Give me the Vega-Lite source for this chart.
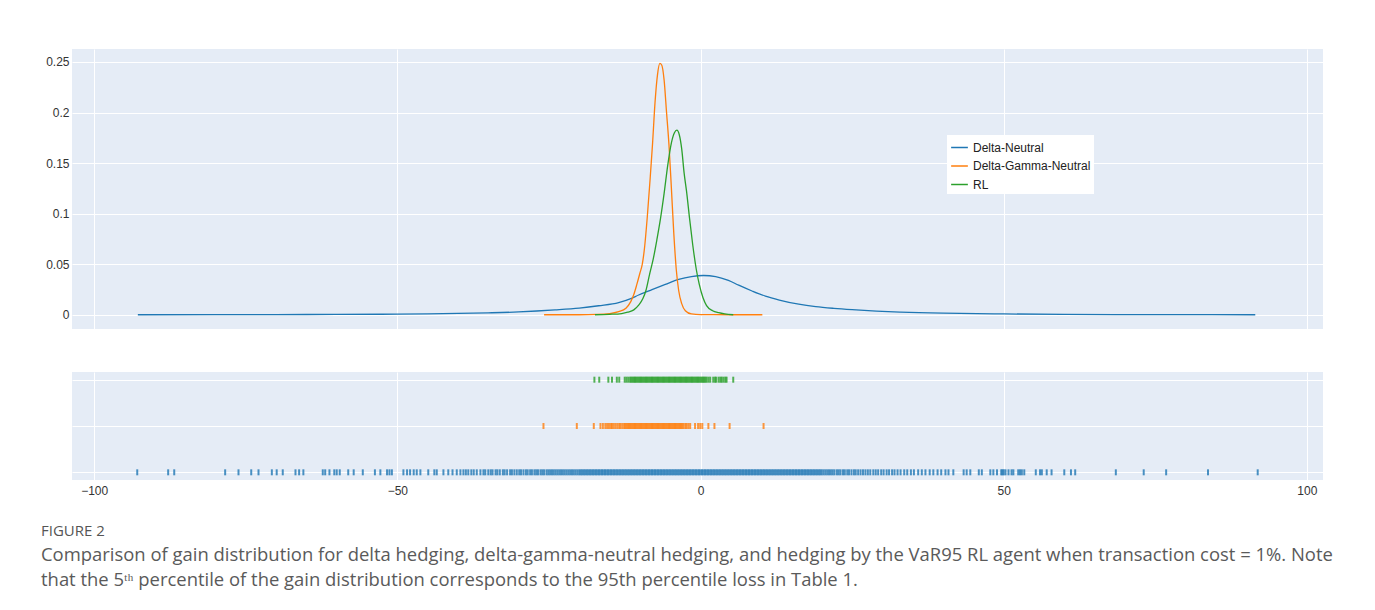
{
"$schema": "https://vega.github.io/schema/vega-lite/v6.json",
"padding": {"left": 41, "top": 49, "right": 16, "bottom": 10},
"background": "white",
"config": {
  "view": {"fill": "#E5ECF6", "stroke": null},
  "axis": {"labelFont": "Liberation Sans", "labelFontSize": 12, "labelColor": "#333333", "gridColor": "#FFFFFF", "gridWidth": 1, "domain": false, "ticks": false, "title": null},
  "font": "Liberation Sans"
},
"title": {
  "text": "FIGURE 2",
  "subtitle": ["Comparison of gain distribution for delta hedging, delta-gamma-neutral hedging, and hedging by the VaR95 RL agent when transaction cost = 1%. Note", "that the 5ᵗʰ percentile of the gain distribution corresponds to the 95th percentile loss in Table 1."],
  "orient": "bottom", "anchor": "start", "frame": "bounds", "offset": 28, "dx": -1,
  "font": "Open Sans", "fontSize": 15, "fontWeight": "normal", "color": "#555555",
  "subtitleFont": "Open Sans", "subtitleFontSize": 18.45, "subtitleColor": "#5a5a5a", "subtitlePadding": 7, "subtitleLineHeight": 24.5
},
"datasets": {
  "density": [
    {"series":"Delta-Neutral","gain":-92.8,"density":0},
    {"series":"Delta-Neutral","gain":-80,"density":0.0001},
    {"series":"Delta-Neutral","gain":-70,"density":0.0002},
    {"series":"Delta-Neutral","gain":-60,"density":0.0003},
    {"series":"Delta-Neutral","gain":-50,"density":0.0006},
    {"series":"Delta-Neutral","gain":-45,"density":0.0009},
    {"series":"Delta-Neutral","gain":-40,"density":0.0013},
    {"series":"Delta-Neutral","gain":-35,"density":0.0019},
    {"series":"Delta-Neutral","gain":-30,"density":0.0028},
    {"series":"Delta-Neutral","gain":-27,"density":0.0037},
    {"series":"Delta-Neutral","gain":-24,"density":0.0048},
    {"series":"Delta-Neutral","gain":-20,"density":0.0066},
    {"series":"Delta-Neutral","gain":-16.8,"density":0.0089},
    {"series":"Delta-Neutral","gain":-13.5,"density":0.0120},
    {"series":"Delta-Neutral","gain":-11.5,"density":0.0160},
    {"series":"Delta-Neutral","gain":-10.2,"density":0.0195},
    {"series":"Delta-Neutral","gain":-8,"density":0.0248},
    {"series":"Delta-Neutral","gain":-5.8,"density":0.0300},
    {"series":"Delta-Neutral","gain":-3.6,"density":0.0350},
    {"series":"Delta-Neutral","gain":-1.5,"density":0.0378},
    {"series":"Delta-Neutral","gain":0.5,"density":0.0388},
    {"series":"Delta-Neutral","gain":2.5,"density":0.0378},
    {"series":"Delta-Neutral","gain":4.6,"density":0.0340},
    {"series":"Delta-Neutral","gain":6.3,"density":0.0292},
    {"series":"Delta-Neutral","gain":8.5,"density":0.0235},
    {"series":"Delta-Neutral","gain":10.7,"density":0.0184},
    {"series":"Delta-Neutral","gain":13,"density":0.0145},
    {"series":"Delta-Neutral","gain":16.2,"density":0.0104},
    {"series":"Delta-Neutral","gain":19,"density":0.0080},
    {"series":"Delta-Neutral","gain":22,"density":0.0063},
    {"series":"Delta-Neutral","gain":25,"density":0.0050},
    {"series":"Delta-Neutral","gain":29,"density":0.0036},
    {"series":"Delta-Neutral","gain":33,"density":0.0026},
    {"series":"Delta-Neutral","gain":40,"density":0.0015},
    {"series":"Delta-Neutral","gain":50,"density":0.0008},
    {"series":"Delta-Neutral","gain":60,"density":0.0004},
    {"series":"Delta-Neutral","gain":75,"density":0.0001},
    {"series":"Delta-Neutral","gain":91.5,"density":0},
    {"series":"Delta-Gamma-Neutral","gain":-25.8,"density":0},
    {"series":"Delta-Gamma-Neutral","gain":-20,"density":0},
    {"series":"Delta-Gamma-Neutral","gain":-17,"density":0.0003},
    {"series":"Delta-Gamma-Neutral","gain":-15,"density":0.0012},
    {"series":"Delta-Gamma-Neutral","gain":-13.5,"density":0.0030},
    {"series":"Delta-Gamma-Neutral","gain":-12.3,"density":0.0065},
    {"series":"Delta-Gamma-Neutral","gain":-11.5,"density":0.0130},
    {"series":"Delta-Gamma-Neutral","gain":-11.0,"density":0.020},
    {"series":"Delta-Gamma-Neutral","gain":-10.5,"density":0.030},
    {"series":"Delta-Gamma-Neutral","gain":-10.0,"density":0.041},
    {"series":"Delta-Gamma-Neutral","gain":-9.6,"density":0.050},
    {"series":"Delta-Gamma-Neutral","gain":-9.2,"density":0.068},
    {"series":"Delta-Gamma-Neutral","gain":-8.8,"density":0.095},
    {"series":"Delta-Gamma-Neutral","gain":-8.3,"density":0.135},
    {"series":"Delta-Gamma-Neutral","gain":-7.9,"density":0.170},
    {"series":"Delta-Gamma-Neutral","gain":-7.5,"density":0.210},
    {"series":"Delta-Gamma-Neutral","gain":-7.1,"density":0.237},
    {"series":"Delta-Gamma-Neutral","gain":-6.7,"density":0.2485},
    {"series":"Delta-Gamma-Neutral","gain":-6.4,"density":0.247},
    {"series":"Delta-Gamma-Neutral","gain":-6.0,"density":0.232},
    {"series":"Delta-Gamma-Neutral","gain":-5.6,"density":0.200},
    {"series":"Delta-Gamma-Neutral","gain":-5.2,"density":0.168},
    {"series":"Delta-Gamma-Neutral","gain":-4.8,"density":0.125},
    {"series":"Delta-Gamma-Neutral","gain":-4.4,"density":0.080},
    {"series":"Delta-Gamma-Neutral","gain":-4.0,"density":0.045},
    {"series":"Delta-Gamma-Neutral","gain":-3.6,"density":0.024},
    {"series":"Delta-Gamma-Neutral","gain":-3.1,"density":0.011},
    {"series":"Delta-Gamma-Neutral","gain":-2.5,"density":0.004},
    {"series":"Delta-Gamma-Neutral","gain":-1.5,"density":0.0008},
    {"series":"Delta-Gamma-Neutral","gain":0,"density":0.0001},
    {"series":"Delta-Gamma-Neutral","gain":5,"density":0},
    {"series":"Delta-Gamma-Neutral","gain":10.2,"density":0},
    {"series":"RL","gain":-17.4,"density":0},
    {"series":"RL","gain":-15,"density":0.0004},
    {"series":"RL","gain":-13,"density":0.0012},
    {"series":"RL","gain":-12,"density":0.0025},
    {"series":"RL","gain":-11,"density":0.0048},
    {"series":"RL","gain":-10.2,"density":0.0095},
    {"series":"RL","gain":-9.5,"density":0.016},
    {"series":"RL","gain":-9.0,"density":0.024},
    {"series":"RL","gain":-8.4,"density":0.040},
    {"series":"RL","gain":-7.8,"density":0.055},
    {"series":"RL","gain":-7.2,"density":0.074},
    {"series":"RL","gain":-6.6,"density":0.095},
    {"series":"RL","gain":-6.0,"density":0.120},
    {"series":"RL","gain":-5.4,"density":0.148},
    {"series":"RL","gain":-4.8,"density":0.170},
    {"series":"RL","gain":-4.3,"density":0.180},
    {"series":"RL","gain":-3.9,"density":0.1825},
    {"series":"RL","gain":-3.5,"density":0.178},
    {"series":"RL","gain":-3.1,"density":0.164},
    {"series":"RL","gain":-2.7,"density":0.140},
    {"series":"RL","gain":-2.3,"density":0.122},
    {"series":"RL","gain":-1.8,"density":0.095},
    {"series":"RL","gain":-1.3,"density":0.070},
    {"series":"RL","gain":-0.7,"density":0.045},
    {"series":"RL","gain":-0.2,"density":0.030},
    {"series":"RL","gain":0.4,"density":0.017},
    {"series":"RL","gain":1.0,"density":0.0090},
    {"series":"RL","gain":2.0,"density":0.0040},
    {"series":"RL","gain":3.0,"density":0.0020},
    {"series":"RL","gain":4.0,"density":0.0008},
    {"series":"RL","gain":5.4,"density":0}
  ],
  "rug": [
    {"series":"Delta-Neutral","gain":-92.9},{"series":"Delta-Neutral","gain":-87.8},{"series":"Delta-Neutral","gain":-86.8},{"series":"Delta-Neutral","gain":-78.4},{"series":"Delta-Neutral","gain":-76.2},{"series":"Delta-Neutral","gain":-74.1},{"series":"Delta-Neutral","gain":-72.9},{"series":"Delta-Neutral","gain":-70.7},{"series":"Delta-Neutral","gain":-69.9},{"series":"Delta-Neutral","gain":-68.9},{"series":"Delta-Neutral","gain":-66.8},{"series":"Delta-Neutral","gain":-66.2},{"series":"Delta-Neutral","gain":-65.5},{"series":"Delta-Neutral","gain":-62.3},{"series":"Delta-Neutral","gain":-61.9},{"series":"Delta-Neutral","gain":-61.2},{"series":"Delta-Neutral","gain":-60.4},{"series":"Delta-Neutral","gain":-60.0},{"series":"Delta-Neutral","gain":-59.5},{"series":"Delta-Neutral","gain":-58.1},{"series":"Delta-Neutral","gain":-57.2},{"series":"Delta-Neutral","gain":-55.7},{"series":"Delta-Neutral","gain":-53.7},{"series":"Delta-Neutral","gain":-52.8},{"series":"Delta-Neutral","gain":-51.7},{"series":"Delta-Neutral","gain":-51.3},{"series":"Delta-Neutral","gain":-50.9},{"series":"Delta-Neutral","gain":-49.0},{"series":"Delta-Neutral","gain":-48.4},{"series":"Delta-Neutral","gain":-47.9},{"series":"Delta-Neutral","gain":-47.3},{"series":"Delta-Neutral","gain":-46.8},{"series":"Delta-Neutral","gain":-46.2},{"series":"Delta-Neutral","gain":-44.9},{"series":"Delta-Neutral","gain":-43.9},{"series":"Delta-Neutral","gain":-43.5},{"series":"Delta-Neutral","gain":-42.4},{"series":"Delta-Neutral","gain":-41.6},{"series":"Delta-Neutral","gain":-40.9},{"series":"Delta-Neutral","gain":-40.2},{"series":"Delta-Neutral","gain":-39.6},{"series":"Delta-Neutral","gain":-39.1},{"series":"Delta-Neutral","gain":-38.7},{"series":"Delta-Neutral","gain":-38.3},{"series":"Delta-Neutral","gain":-37.8},{"series":"Delta-Neutral","gain":-37.4},{"series":"Delta-Neutral","gain":-36.9},{"series":"Delta-Neutral","gain":-36.3},{"series":"Delta-Neutral","gain":-35.8},{"series":"Delta-Neutral","gain":-35.5},
    {"series":"Delta-Neutral","gain":-35.0},{"series":"Delta-Neutral","gain":-34.6},{"series":"Delta-Neutral","gain":-34.3},{"series":"Delta-Neutral","gain":-33.8},{"series":"Delta-Neutral","gain":-33.5},{"series":"Delta-Neutral","gain":-33.1},{"series":"Delta-Neutral","gain":-32.6},{"series":"Delta-Neutral","gain":-32.3},{"series":"Delta-Neutral","gain":-31.9},{"series":"Delta-Neutral","gain":-31.4},{"series":"Delta-Neutral","gain":-31.1},{"series":"Delta-Neutral","gain":-30.7},{"series":"Delta-Neutral","gain":-30.3},{"series":"Delta-Neutral","gain":-29.9},{"series":"Delta-Neutral","gain":-29.6},{"series":"Delta-Neutral","gain":-29.2},{"series":"Delta-Neutral","gain":-28.8},{"series":"Delta-Neutral","gain":-28.5},{"series":"Delta-Neutral","gain":-28.1},{"series":"Delta-Neutral","gain":-27.8},{"series":"Delta-Neutral","gain":-27.4},{"series":"Delta-Neutral","gain":-27.1},{"series":"Delta-Neutral","gain":-26.8},{"series":"Delta-Neutral","gain":-26.4},{"series":"Delta-Neutral","gain":-26.1},{"series":"Delta-Neutral","gain":-25.8},{"series":"Delta-Neutral","gain":-25.4},{"series":"Delta-Neutral","gain":-25.1},{"series":"Delta-Neutral","gain":-24.8},{"series":"Delta-Neutral","gain":-24.5},{"series":"Delta-Neutral","gain":-24.2},{"series":"Delta-Neutral","gain":-23.9},{"series":"Delta-Neutral","gain":-23.6},{"series":"Delta-Neutral","gain":-23.3},{"series":"Delta-Neutral","gain":-23.0},{"series":"Delta-Neutral","gain":-22.7},{"series":"Delta-Neutral","gain":-22.4},{"series":"Delta-Neutral","gain":-22.1},{"series":"Delta-Neutral","gain":-21.8},{"series":"Delta-Neutral","gain":-21.5},{"series":"Delta-Neutral","gain":-21.2},{"series":"Delta-Neutral","gain":-20.9},{"series":"Delta-Neutral","gain":-20.6},{"series":"Delta-Neutral","gain":-20.3},
    {"series":"Delta-Neutral","gain":-20.0},{"series":"Delta-Neutral","gain":-19.75},{"series":"Delta-Neutral","gain":-19.5},{"series":"Delta-Neutral","gain":-19.25},{"series":"Delta-Neutral","gain":-19.0},{"series":"Delta-Neutral","gain":-18.75},{"series":"Delta-Neutral","gain":-18.5},{"series":"Delta-Neutral","gain":-18.25},{"series":"Delta-Neutral","gain":-18.0},{"series":"Delta-Neutral","gain":-17.75},{"series":"Delta-Neutral","gain":-17.5},{"series":"Delta-Neutral","gain":-17.25},{"series":"Delta-Neutral","gain":-17.0},{"series":"Delta-Neutral","gain":-16.75},{"series":"Delta-Neutral","gain":-16.5},{"series":"Delta-Neutral","gain":-16.25},{"series":"Delta-Neutral","gain":-16.0},{"series":"Delta-Neutral","gain":-15.75},{"series":"Delta-Neutral","gain":-15.5},{"series":"Delta-Neutral","gain":-15.25},{"series":"Delta-Neutral","gain":-15.0},{"series":"Delta-Neutral","gain":-14.75},{"series":"Delta-Neutral","gain":-14.5},{"series":"Delta-Neutral","gain":-14.25},{"series":"Delta-Neutral","gain":-14.0},{"series":"Delta-Neutral","gain":-13.75},{"series":"Delta-Neutral","gain":-13.5},{"series":"Delta-Neutral","gain":-13.25},{"series":"Delta-Neutral","gain":-13.0},{"series":"Delta-Neutral","gain":-12.75},{"series":"Delta-Neutral","gain":-12.5},{"series":"Delta-Neutral","gain":-12.25},{"series":"Delta-Neutral","gain":-12.0},{"series":"Delta-Neutral","gain":-11.75},{"series":"Delta-Neutral","gain":-11.5},{"series":"Delta-Neutral","gain":-11.25},{"series":"Delta-Neutral","gain":-11.0},{"series":"Delta-Neutral","gain":-10.75},{"series":"Delta-Neutral","gain":-10.5},{"series":"Delta-Neutral","gain":-10.25},{"series":"Delta-Neutral","gain":-10.0},{"series":"Delta-Neutral","gain":-9.75},{"series":"Delta-Neutral","gain":-9.5},{"series":"Delta-Neutral","gain":-9.25},{"series":"Delta-Neutral","gain":-9.0},{"series":"Delta-Neutral","gain":-8.75},{"series":"Delta-Neutral","gain":-8.5},{"series":"Delta-Neutral","gain":-8.25},{"series":"Delta-Neutral","gain":-8.0},{"series":"Delta-Neutral","gain":-7.75},{"series":"Delta-Neutral","gain":-7.5},{"series":"Delta-Neutral","gain":-7.25},{"series":"Delta-Neutral","gain":-7.0},{"series":"Delta-Neutral","gain":-6.75},{"series":"Delta-Neutral","gain":-6.5},{"series":"Delta-Neutral","gain":-6.25},{"series":"Delta-Neutral","gain":-6.0},{"series":"Delta-Neutral","gain":-5.75},{"series":"Delta-Neutral","gain":-5.5},{"series":"Delta-Neutral","gain":-5.25},{"series":"Delta-Neutral","gain":-5.0},{"series":"Delta-Neutral","gain":-4.75},{"series":"Delta-Neutral","gain":-4.5},{"series":"Delta-Neutral","gain":-4.25},{"series":"Delta-Neutral","gain":-4.0},{"series":"Delta-Neutral","gain":-3.75},{"series":"Delta-Neutral","gain":-3.5},{"series":"Delta-Neutral","gain":-3.25},{"series":"Delta-Neutral","gain":-3.0},{"series":"Delta-Neutral","gain":-2.75},{"series":"Delta-Neutral","gain":-2.5},{"series":"Delta-Neutral","gain":-2.25},{"series":"Delta-Neutral","gain":-2.0},{"series":"Delta-Neutral","gain":-1.75},{"series":"Delta-Neutral","gain":-1.5},{"series":"Delta-Neutral","gain":-1.25},{"series":"Delta-Neutral","gain":-1.0},{"series":"Delta-Neutral","gain":-0.75},{"series":"Delta-Neutral","gain":-0.5},{"series":"Delta-Neutral","gain":-0.25},{"series":"Delta-Neutral","gain":0.0},{"series":"Delta-Neutral","gain":0.25},{"series":"Delta-Neutral","gain":0.5},{"series":"Delta-Neutral","gain":0.75},{"series":"Delta-Neutral","gain":1.0},{"series":"Delta-Neutral","gain":1.25},{"series":"Delta-Neutral","gain":1.5},{"series":"Delta-Neutral","gain":1.75},{"series":"Delta-Neutral","gain":2.0},{"series":"Delta-Neutral","gain":2.25},{"series":"Delta-Neutral","gain":2.5},{"series":"Delta-Neutral","gain":2.75},{"series":"Delta-Neutral","gain":3.0},{"series":"Delta-Neutral","gain":3.25},{"series":"Delta-Neutral","gain":3.5},{"series":"Delta-Neutral","gain":3.75},{"series":"Delta-Neutral","gain":4.0},{"series":"Delta-Neutral","gain":4.25},{"series":"Delta-Neutral","gain":4.5},{"series":"Delta-Neutral","gain":4.75},{"series":"Delta-Neutral","gain":5.0},{"series":"Delta-Neutral","gain":5.25},{"series":"Delta-Neutral","gain":5.5},{"series":"Delta-Neutral","gain":5.75},{"series":"Delta-Neutral","gain":6.0},{"series":"Delta-Neutral","gain":6.25},{"series":"Delta-Neutral","gain":6.5},{"series":"Delta-Neutral","gain":6.75},{"series":"Delta-Neutral","gain":7.0},{"series":"Delta-Neutral","gain":7.25},{"series":"Delta-Neutral","gain":7.5},{"series":"Delta-Neutral","gain":7.75},{"series":"Delta-Neutral","gain":8.0},{"series":"Delta-Neutral","gain":8.25},{"series":"Delta-Neutral","gain":8.5},{"series":"Delta-Neutral","gain":8.75},{"series":"Delta-Neutral","gain":9.0},{"series":"Delta-Neutral","gain":9.25},{"series":"Delta-Neutral","gain":9.5},{"series":"Delta-Neutral","gain":9.75},{"series":"Delta-Neutral","gain":10.0},{"series":"Delta-Neutral","gain":10.25},{"series":"Delta-Neutral","gain":10.5},{"series":"Delta-Neutral","gain":10.75},{"series":"Delta-Neutral","gain":11.0},{"series":"Delta-Neutral","gain":11.25},{"series":"Delta-Neutral","gain":11.5},{"series":"Delta-Neutral","gain":11.75},{"series":"Delta-Neutral","gain":12.0},{"series":"Delta-Neutral","gain":12.25},{"series":"Delta-Neutral","gain":12.5},{"series":"Delta-Neutral","gain":12.75},{"series":"Delta-Neutral","gain":13.0},{"series":"Delta-Neutral","gain":13.25},{"series":"Delta-Neutral","gain":13.5},{"series":"Delta-Neutral","gain":13.75},{"series":"Delta-Neutral","gain":14.0},{"series":"Delta-Neutral","gain":14.25},{"series":"Delta-Neutral","gain":14.5},{"series":"Delta-Neutral","gain":14.75},{"series":"Delta-Neutral","gain":15.0},{"series":"Delta-Neutral","gain":15.25},{"series":"Delta-Neutral","gain":15.5},{"series":"Delta-Neutral","gain":15.75},{"series":"Delta-Neutral","gain":16.0},{"series":"Delta-Neutral","gain":16.25},{"series":"Delta-Neutral","gain":16.5},{"series":"Delta-Neutral","gain":16.75},{"series":"Delta-Neutral","gain":17.0},{"series":"Delta-Neutral","gain":17.25},{"series":"Delta-Neutral","gain":17.5},{"series":"Delta-Neutral","gain":17.75},{"series":"Delta-Neutral","gain":18.0},{"series":"Delta-Neutral","gain":18.25},{"series":"Delta-Neutral","gain":18.5},{"series":"Delta-Neutral","gain":18.75},{"series":"Delta-Neutral","gain":19.0},{"series":"Delta-Neutral","gain":19.25},{"series":"Delta-Neutral","gain":19.5},{"series":"Delta-Neutral","gain":19.75},{"series":"Delta-Neutral","gain":20.0},
    {"series":"Delta-Neutral","gain":20.3},{"series":"Delta-Neutral","gain":20.6},{"series":"Delta-Neutral","gain":20.9},{"series":"Delta-Neutral","gain":21.2},{"series":"Delta-Neutral","gain":21.5},{"series":"Delta-Neutral","gain":21.8},{"series":"Delta-Neutral","gain":22.1},{"series":"Delta-Neutral","gain":22.5},{"series":"Delta-Neutral","gain":22.8},{"series":"Delta-Neutral","gain":23.1},{"series":"Delta-Neutral","gain":23.5},{"series":"Delta-Neutral","gain":23.8},{"series":"Delta-Neutral","gain":24.2},{"series":"Delta-Neutral","gain":24.5},{"series":"Delta-Neutral","gain":24.9},{"series":"Delta-Neutral","gain":25.3},{"series":"Delta-Neutral","gain":25.6},{"series":"Delta-Neutral","gain":26.0},{"series":"Delta-Neutral","gain":26.4},{"series":"Delta-Neutral","gain":26.8},{"series":"Delta-Neutral","gain":27.2},{"series":"Delta-Neutral","gain":27.6},{"series":"Delta-Neutral","gain":28.0},{"series":"Delta-Neutral","gain":28.5},{"series":"Delta-Neutral","gain":28.9},{"series":"Delta-Neutral","gain":29.3},{"series":"Delta-Neutral","gain":29.8},{"series":"Delta-Neutral","gain":30.2},{"series":"Delta-Neutral","gain":30.7},{"series":"Delta-Neutral","gain":31.1},{"series":"Delta-Neutral","gain":31.6},{"series":"Delta-Neutral","gain":32.0},{"series":"Delta-Neutral","gain":32.5},{"series":"Delta-Neutral","gain":33.0},{"series":"Delta-Neutral","gain":33.6},{"series":"Delta-Neutral","gain":34.1},{"series":"Delta-Neutral","gain":34.7},{"series":"Delta-Neutral","gain":35.2},{"series":"Delta-Neutral","gain":35.9},{"series":"Delta-Neutral","gain":36.5},{"series":"Delta-Neutral","gain":37.1},{"series":"Delta-Neutral","gain":37.8},{"series":"Delta-Neutral","gain":38.4},{"series":"Delta-Neutral","gain":39.1},{"series":"Delta-Neutral","gain":39.7},
    {"series":"Delta-Neutral","gain":40.4},{"series":"Delta-Neutral","gain":40.9},{"series":"Delta-Neutral","gain":41.7},{"series":"Delta-Neutral","gain":43.4},{"series":"Delta-Neutral","gain":43.9},{"series":"Delta-Neutral","gain":44.5},{"series":"Delta-Neutral","gain":45.9},{"series":"Delta-Neutral","gain":46.4},{"series":"Delta-Neutral","gain":47.8},{"series":"Delta-Neutral","gain":48.3},{"series":"Delta-Neutral","gain":48.9},{"series":"Delta-Neutral","gain":49.6},{"series":"Delta-Neutral","gain":49.8},{"series":"Delta-Neutral","gain":50.0},{"series":"Delta-Neutral","gain":50.3},{"series":"Delta-Neutral","gain":50.8},{"series":"Delta-Neutral","gain":51.3},{"series":"Delta-Neutral","gain":51.6},{"series":"Delta-Neutral","gain":52.4},{"series":"Delta-Neutral","gain":52.7},{"series":"Delta-Neutral","gain":53.0},{"series":"Delta-Neutral","gain":53.4},{"series":"Delta-Neutral","gain":55.3},{"series":"Delta-Neutral","gain":56.0},{"series":"Delta-Neutral","gain":56.3},{"series":"Delta-Neutral","gain":57.1},{"series":"Delta-Neutral","gain":57.9},{"series":"Delta-Neutral","gain":60.0},{"series":"Delta-Neutral","gain":61.1},{"series":"Delta-Neutral","gain":61.8},{"series":"Delta-Neutral","gain":68.5},{"series":"Delta-Neutral","gain":73.1},{"series":"Delta-Neutral","gain":76.8},{"series":"Delta-Neutral","gain":83.7},{"series":"Delta-Neutral","gain":91.9},
    {"series":"Delta-Gamma-Neutral","gain":-25.9},{"series":"Delta-Gamma-Neutral","gain":-20.4},{"series":"Delta-Gamma-Neutral","gain":-17.6},{"series":"Delta-Gamma-Neutral","gain":-16.5},{"series":"Delta-Gamma-Neutral","gain":-16.1},{"series":"Delta-Gamma-Neutral","gain":-15.7},{"series":"Delta-Gamma-Neutral","gain":-15.4},{"series":"Delta-Gamma-Neutral","gain":-15.1},{"series":"Delta-Gamma-Neutral","gain":-14.8},{"series":"Delta-Gamma-Neutral","gain":-14.6},{"series":"Delta-Gamma-Neutral","gain":-14.3},{"series":"Delta-Gamma-Neutral","gain":-14.0},{"series":"Delta-Gamma-Neutral","gain":-13.7},{"series":"Delta-Gamma-Neutral","gain":-13.4},{"series":"Delta-Gamma-Neutral","gain":-13.2},{"series":"Delta-Gamma-Neutral","gain":-12.9},{"series":"Delta-Gamma-Neutral","gain":-12.6},
    {"series":"Delta-Gamma-Neutral","gain":-12.4},{"series":"Delta-Gamma-Neutral","gain":-12.2},{"series":"Delta-Gamma-Neutral","gain":-12.0},{"series":"Delta-Gamma-Neutral","gain":-11.8},{"series":"Delta-Gamma-Neutral","gain":-11.6},{"series":"Delta-Gamma-Neutral","gain":-11.4},{"series":"Delta-Gamma-Neutral","gain":-11.2},{"series":"Delta-Gamma-Neutral","gain":-11.0},{"series":"Delta-Gamma-Neutral","gain":-10.8},{"series":"Delta-Gamma-Neutral","gain":-10.6},{"series":"Delta-Gamma-Neutral","gain":-10.4},{"series":"Delta-Gamma-Neutral","gain":-10.2},{"series":"Delta-Gamma-Neutral","gain":-10.0},{"series":"Delta-Gamma-Neutral","gain":-9.8},{"series":"Delta-Gamma-Neutral","gain":-9.6},{"series":"Delta-Gamma-Neutral","gain":-9.4},{"series":"Delta-Gamma-Neutral","gain":-9.2},{"series":"Delta-Gamma-Neutral","gain":-9.0},{"series":"Delta-Gamma-Neutral","gain":-8.8},{"series":"Delta-Gamma-Neutral","gain":-8.6},{"series":"Delta-Gamma-Neutral","gain":-8.4},{"series":"Delta-Gamma-Neutral","gain":-8.2},{"series":"Delta-Gamma-Neutral","gain":-8.0},{"series":"Delta-Gamma-Neutral","gain":-7.8},{"series":"Delta-Gamma-Neutral","gain":-7.6},{"series":"Delta-Gamma-Neutral","gain":-7.4},{"series":"Delta-Gamma-Neutral","gain":-7.2},{"series":"Delta-Gamma-Neutral","gain":-7.0},{"series":"Delta-Gamma-Neutral","gain":-6.8},{"series":"Delta-Gamma-Neutral","gain":-6.6},{"series":"Delta-Gamma-Neutral","gain":-6.4},{"series":"Delta-Gamma-Neutral","gain":-6.2},{"series":"Delta-Gamma-Neutral","gain":-6.0},{"series":"Delta-Gamma-Neutral","gain":-5.8},{"series":"Delta-Gamma-Neutral","gain":-5.6},{"series":"Delta-Gamma-Neutral","gain":-5.4},{"series":"Delta-Gamma-Neutral","gain":-5.2},{"series":"Delta-Gamma-Neutral","gain":-5.0},{"series":"Delta-Gamma-Neutral","gain":-4.8},{"series":"Delta-Gamma-Neutral","gain":-4.6},{"series":"Delta-Gamma-Neutral","gain":-4.4},{"series":"Delta-Gamma-Neutral","gain":-4.2},{"series":"Delta-Gamma-Neutral","gain":-4.0},{"series":"Delta-Gamma-Neutral","gain":-3.8},{"series":"Delta-Gamma-Neutral","gain":-3.6},{"series":"Delta-Gamma-Neutral","gain":-3.4},{"series":"Delta-Gamma-Neutral","gain":-3.2},{"series":"Delta-Gamma-Neutral","gain":-3.0},{"series":"Delta-Gamma-Neutral","gain":-2.8},
    {"series":"Delta-Gamma-Neutral","gain":-2.5},{"series":"Delta-Gamma-Neutral","gain":-2.3},{"series":"Delta-Gamma-Neutral","gain":-2.0},{"series":"Delta-Gamma-Neutral","gain":-1.7},{"series":"Delta-Gamma-Neutral","gain":-0.9},{"series":"Delta-Gamma-Neutral","gain":-0.4},{"series":"Delta-Gamma-Neutral","gain":-0.05},{"series":"Delta-Gamma-Neutral","gain":0.3},{"series":"Delta-Gamma-Neutral","gain":1.3},{"series":"Delta-Gamma-Neutral","gain":2.3},{"series":"Delta-Gamma-Neutral","gain":4.8},{"series":"Delta-Gamma-Neutral","gain":10.4},
    {"series":"RL","gain":-17.5},{"series":"RL","gain":-16.7},{"series":"RL","gain":-15.2},{"series":"RL","gain":-14.6},{"series":"RL","gain":-13.8},{"series":"RL","gain":-13.4},{"series":"RL","gain":-12.5},{"series":"RL","gain":-12.2},{"series":"RL","gain":-11.9},
    {"series":"RL","gain":-11.6},{"series":"RL","gain":-11.4},{"series":"RL","gain":-11.2},{"series":"RL","gain":-11.0},{"series":"RL","gain":-10.8},{"series":"RL","gain":-10.6},{"series":"RL","gain":-10.4},{"series":"RL","gain":-10.2},{"series":"RL","gain":-10.0},{"series":"RL","gain":-9.8},{"series":"RL","gain":-9.6},{"series":"RL","gain":-9.4},{"series":"RL","gain":-9.2},{"series":"RL","gain":-9.0},{"series":"RL","gain":-8.8},{"series":"RL","gain":-8.6},{"series":"RL","gain":-8.4},{"series":"RL","gain":-8.2},{"series":"RL","gain":-8.0},{"series":"RL","gain":-7.8},{"series":"RL","gain":-7.6},{"series":"RL","gain":-7.4},{"series":"RL","gain":-7.2},{"series":"RL","gain":-7.0},{"series":"RL","gain":-6.8},{"series":"RL","gain":-6.6},{"series":"RL","gain":-6.4},{"series":"RL","gain":-6.2},{"series":"RL","gain":-6.0},{"series":"RL","gain":-5.8},{"series":"RL","gain":-5.6},{"series":"RL","gain":-5.4},{"series":"RL","gain":-5.2},{"series":"RL","gain":-5.0},{"series":"RL","gain":-4.8},{"series":"RL","gain":-4.6},{"series":"RL","gain":-4.4},{"series":"RL","gain":-4.2},{"series":"RL","gain":-4.0},{"series":"RL","gain":-3.8},{"series":"RL","gain":-3.6},{"series":"RL","gain":-3.4},{"series":"RL","gain":-3.2},{"series":"RL","gain":-3.0},{"series":"RL","gain":-2.8},{"series":"RL","gain":-2.6},{"series":"RL","gain":-2.4},{"series":"RL","gain":-2.2},{"series":"RL","gain":-2.0},{"series":"RL","gain":-1.8},{"series":"RL","gain":-1.6},{"series":"RL","gain":-1.4},{"series":"RL","gain":-1.2},{"series":"RL","gain":-1.0},{"series":"RL","gain":-0.8},{"series":"RL","gain":-0.6},{"series":"RL","gain":-0.4},{"series":"RL","gain":-0.2},{"series":"RL","gain":0.0},{"series":"RL","gain":0.2},{"series":"RL","gain":0.4},{"series":"RL","gain":0.6},{"series":"RL","gain":0.8},
    {"series":"RL","gain":1.0},{"series":"RL","gain":1.3},{"series":"RL","gain":1.6},{"series":"RL","gain":2.1},{"series":"RL","gain":2.4},{"series":"RL","gain":2.6},{"series":"RL","gain":3.0},{"series":"RL","gain":3.3},{"series":"RL","gain":3.5},{"series":"RL","gain":3.8},{"series":"RL","gain":4.1},{"series":"RL","gain":4.3},{"series":"RL","gain":5.4}
  ]
},
"spacing": 43,
"resolve": {"scale": {"color": "independent"}},
"vconcat": [
  {
    "width": 1251, "height": 280,
    "data": {"name": "density"},
    "mark": {"type": "line", "strokeWidth": 1.3, "interpolate": "monotone"},
    "encoding": {
      "x": {"field": "gain", "type": "quantitative", "scale": {"domain": [-103.66, 102.67], "nice": false, "zero": false},
            "axis": {"values": [-100, -50, 0, 50, 100], "labels": false, "grid": true, "minExtent": 0, "maxExtent": 0, "labelPadding": 0}},
      "y": {"field": "density", "type": "quantitative", "scale": {"domain": [-0.0141, 0.2628], "nice": false, "zero": false},
            "axis": {"values": [0, 0.05, 0.1, 0.15, 0.2, 0.25], "format": "~g", "labelPadding": 3, "minExtent": 30, "maxExtent": 30, "grid": true}},
      "color": {"field": "series", "type": "nominal",
                "scale": {"domain": ["Delta-Neutral", "Delta-Gamma-Neutral", "RL"], "range": ["#1f77b4", "#ff7f0e", "#2ca02c"]},
                "legend": {"title": null, "orient": "none", "legendX": 875, "legendY": 86, "fillColor": "#FFFFFF", "padding": 3,
                           "symbolType": "stroke", "symbolSize": 280, "symbolStrokeWidth": 1.5, "labelFontSize": 12, "labelFont": "Liberation Sans",
                           "labelColor": "#222222", "labelOffset": 4, "rowPadding": 2.5}}
    }
  },
  {
    "width": 1251, "height": 108,
    "data": {"name": "rug"},
    "mark": {"type": "tick", "thickness": 2, "size": 6, "opacity": 0.8},
    "encoding": {
      "x": {"field": "gain", "type": "quantitative", "scale": {"domain": [-103.66, 102.67], "nice": false, "zero": false},
            "axis": {"values": [-100, -50, 0, 50, 100], "labelPadding": 5, "grid": true}},
      "y": {"field": "series", "type": "nominal", "scale": {"type": "point", "domain": ["RL", "Delta-Gamma-Neutral", "Delta-Neutral"], "padding": 0.166},
            "axis": {"labels": false, "grid": true, "minExtent": 30, "maxExtent": 30}},
      "color": {"field": "series", "type": "nominal",
                "scale": {"domain": ["Delta-Neutral", "Delta-Gamma-Neutral", "RL"], "range": ["#1f77b4", "#ff7f0e", "#2ca02c"]},
                "legend": null}
    }
  }
]
}
